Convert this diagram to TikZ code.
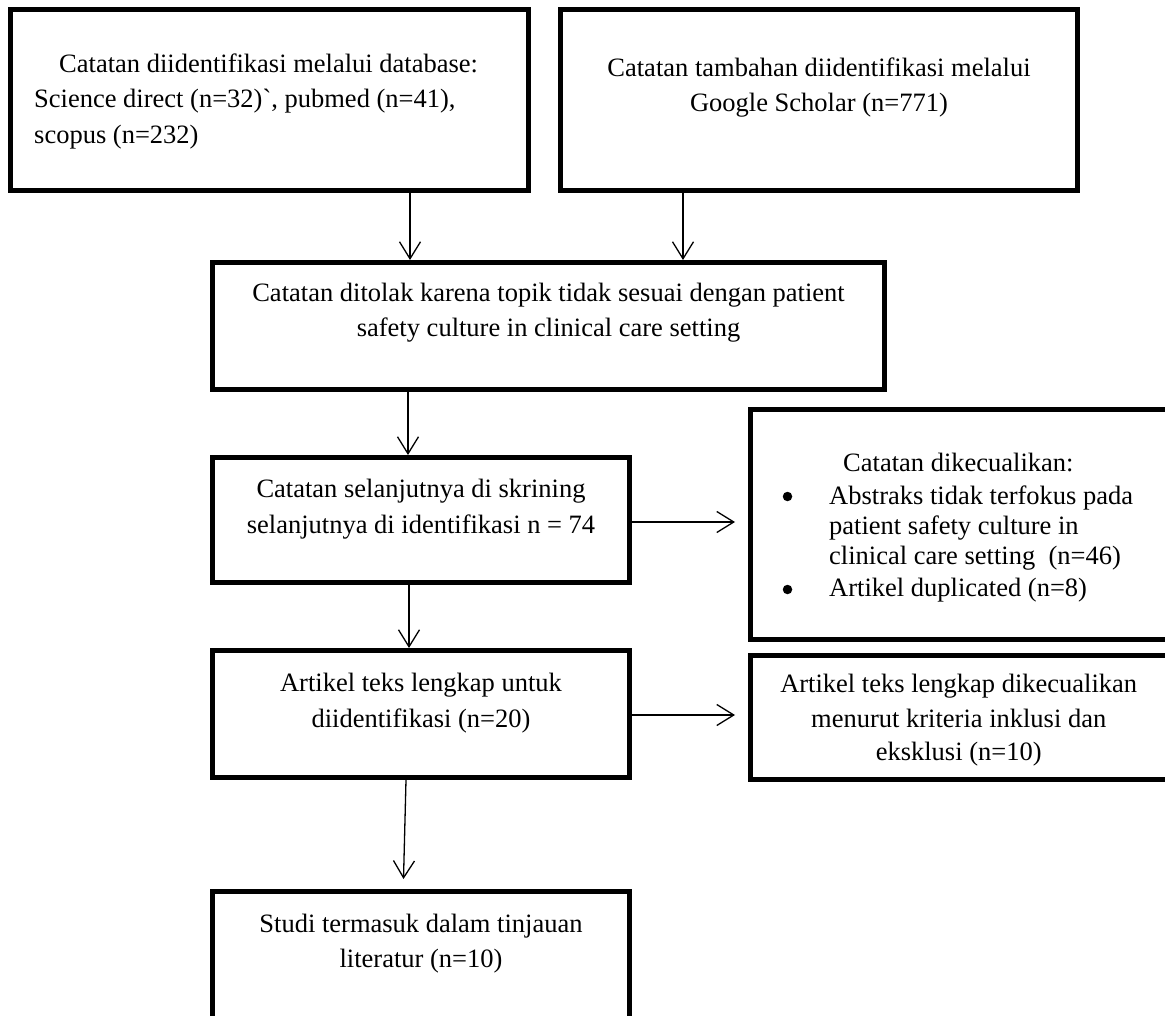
\documentclass[tikz,border=0pt]{standalone}
\usepackage{fontspec}
\setmainfont{Liberation Serif}
\newfontfamily\rawserif{Liberation Serif}[Ligatures=TeXOff]
\usetikzlibrary{arrows.meta,calc}
\begin{document}
\begin{tikzpicture}[x=1pt,y=-1pt,
  box/.style={draw, line width=5pt, rectangle, inner sep=0pt, outer sep=2.5pt},
  txt/.style={font=\fontsize{26.5}{35}\selectfont, inner sep=0pt},
  bul/.style={circle, fill, inner sep=0pt, minimum size=9.5pt},
  arr/.style={line width=1.3pt, -{Straight Barb[length=17pt,width=21pt]}}]
\useasboundingbox (0,0) rectangle (1165,1016);
\fill[white] (0,0) rectangle (1165,1016);
\begin{scope}
\clip (0,0) rectangle (1165,1016);
% boxes
\node[box, minimum width=518pt, minimum height=181pt] (b1) at (269.5,100) {};
\node[box, minimum width=517pt, minimum height=181pt] (b2) at (819,100) {};
\node[box, minimum width=672pt, minimum height=127pt] (b3) at (548.5,326) {};
\node[box, minimum width=417pt, minimum height=125pt] (b4) at (421,520) {};
\node[box, minimum width=417.5pt, minimum height=230pt] (b5) at (959.25,524.5) {};
\node[box, minimum width=417pt, minimum height=127pt] (art) at (421,714) {};
\node[box, minimum width=417.5pt, minimum height=124pt] (b6) at (959.25,717.5) {};
\node[box, minimum width=417pt, minimum height=128pt] (b7) at (421,955.5) {};
\end{scope}
% texts
\node[txt, anchor=base west] (t1a) at (59,72.5) {Catatan diidentifikasi melalui database:};
\node[txt, anchor=base west] (t1b) at (34,108) {Science direct (n=32){\rawserif\char"60}, pubmed (n=41),};
\node[txt, anchor=base west] (t1c) at (34,143.5) {scopus (n=232)};
\node[txt, anchor=base] (t2a) at (819,77) {Catatan tambahan diidentifikasi melalui};
\node[txt, anchor=base] (t2b) at (819,112) {Google Scholar (n=771)};
\node[txt, anchor=base] (t3a) at (548.5,302) {Catatan ditolak karena topik tidak sesuai dengan patient};
\node[txt, anchor=base] (t3b) at (548.5,337) {safety culture in clinical care setting};
\node[txt, anchor=base] (t4a) at (421,497) {Catatan selanjutnya di skrining};
\node[txt, anchor=base] (t4b) at (421,533) {selanjutnya di identifikasi n = 74};
\node[txt, anchor=base west] (t5h) at (843,471) {Catatan dikecualikan:};
\node[bul] (t5p1) at (787.5,496.5) {};
\node[txt, anchor=base west] (t5a) at (829,504) {Abstraks tidak terfokus pada};
\node[txt, anchor=base west] (t5b) at (829,534) {patient safety culture in};
\node[txt, anchor=base west] (t5c) at (829,564) {clinical care setting\ \ (n=46)};
\node[bul] (t5p2) at (787.5,589.5) {};
\node[txt, anchor=base west] (t5d) at (829,596) {Artikel duplicated (n=8)};
\node[txt, anchor=base] (tAa) at (421,691) {Artikel teks lengkap untuk};
\node[txt, anchor=base] (tAb) at (421,727) {diidentifikasi (n=20)};
\node[txt, anchor=base] (t6a) at (958.7,692) {Artikel teks lengkap dikecualikan};
\node[txt, anchor=base] (t6b) at (958.7,727) {menurut kriteria inklusi dan};
\node[txt, anchor=base] (t6c) at (958.7,760) {eksklusi (n=10)};
\node[txt, anchor=base] (t7a) at (421,932) {Studi termasuk dalam tinjauan};
\node[txt, anchor=base] (t7b) at (421,967) {literatur (n=10)};
% connectors
\coordinate (s1) at ($(b1.south)+(140.5,0)$);
\draw[arr] (s1) -- (s1 |- b3.north);
\coordinate (s2) at ($(b2.south)+(-136,0)$);
\draw[arr] (s2) -- (s2 |- b3.north);
\coordinate (s3) at ($(b3.south)+(-140.5,0)$);
\draw[arr] (s3) -- (s3 |- b4.north);
\coordinate (s4) at ($(b4.east)+(0,2)$);
\draw[arr] (s4) -- ($(s4 -| b5.west)+(-13,0)$);
\coordinate (s5) at ($(b4.south)+(-12,0)$);
\draw[arr] (s5) -- (s5 |- art.north);
\coordinate (s6) at ($(art.east)+(0,1)$);
\draw[arr] (s6) -- ($(s6 -| b6.west)+(-13,0)$);
\coordinate (s7) at ($(art.south)+(-15,0)$);
\draw[arr] (s7) -- ($(b7.north)+(-17.5,-10)$);
\end{tikzpicture}
\end{document}
